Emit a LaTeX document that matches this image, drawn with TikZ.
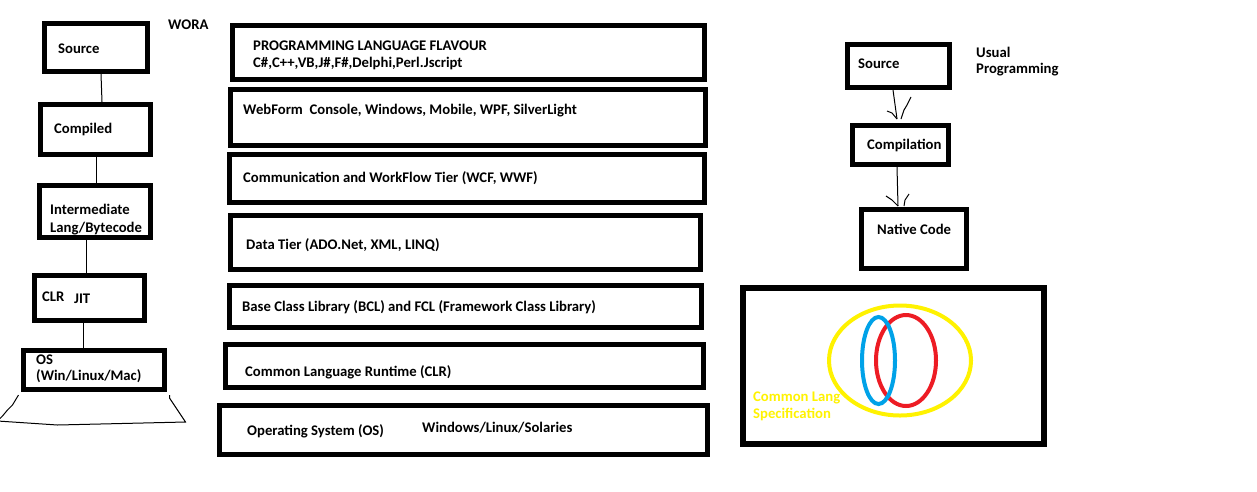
\documentclass[tikz,border=0pt]{standalone}
\usepackage{fontspec}
\setmainfont{Carlito}
\usetikzlibrary{calc}
\definecolor{clyellow}{HTML}{FFF200}
\definecolor{clblue}{HTML}{00A2E8}
\definecolor{clred}{HTML}{ED1C24}
\tikzset{
  box/.style={draw=black, line width=5pt, inner sep=0pt, fill=none},
  bigbox/.style={draw=black, line width=6pt, inner sep=0pt},
  txt/.style={anchor=base west, inner sep=0pt, font=\fontsize{14.7}{17.5}\selectfont\bfseries},
  ytxt/.style={txt, text=clyellow},
  thin/.style={line width=1pt, black},
  ring/.style={line width=4pt}
}
\begin{document}
\begin{tikzpicture}[x=1pt, y=-1pt]
\useasboundingbox (0,0) rectangle (1257,491);

% ---------- left column (WORA) ----------
\node[box, minimum width=103pt, minimum height=48pt] (src) at (96,47.5) {};
\node[box, minimum width=110pt, minimum height=50pt] (cmp) at (95.5,129.5) {};
\node[box, minimum width=111pt, minimum height=52pt] (il) at (95,211.5) {};
\node[box, minimum width=110pt, minimum height=45pt] (clr) at (89.5,298) {};
\node[box, minimum width=141pt, minimum height=39pt] (os) at (94,370) {};

\draw[thin] ([xshift=5pt]src.south) -- ([xshift=6.5pt]cmp.north);
\draw[thin] ([xshift=0.5pt]cmp.south) -- ([xshift=1pt]il.north);
\draw[thin] ([xshift=-9pt]il.south) -- ([xshift=-3.5pt]clr.north);
\draw[thin] ([xshift=-6.5pt]clr.south) -- ([xshift=-11pt]os.north);

\coordinate (lapL) at ([xshift=-2.5pt,yshift=-3pt]os.south west);
\coordinate (lapR) at ([xshift=2.5pt,yshift=-3pt]os.south east);
\draw[thin] (lapL) -- ++(-6,10) -- ++(-5,5) -- ++(-5,6) -- ++(-5,5)
  -- ++(60,4) -- ++(128,-3) -- ++(-8,-12) -- ++(-8,-12) -- (lapR);

\node[txt] (wora) at (168,29) {WORA};
\node[txt] (tsrc) at (58,53) {Source};
\node[txt] (tcmp) at (54,133) {Compiled};
\node[txt] (til1) at (50,214) {Intermediate};
\node[txt] (til2) at (50,232) {Lang/Bytecode};
\node[txt] (tclr) at (42,301) {CLR};
\node[txt] (tjit) at (74,303) {JIT};
\node[txt] (tos1) at (36,364) {OS};
\node[txt] (tos2) at (36,380) {(Win/Linux/Mac)};

% ---------- middle column (.NET stack) ----------
\node[box, minimum width=472pt, minimum height=54pt] (b1) at (468.5,52.5) {};
\node[box, minimum width=475pt, minimum height=56pt] (b2) at (468,117.5) {};
\node[box, minimum width=475pt, minimum height=48pt] (b3) at (467,178.5) {};
\node[box, minimum width=470pt, minimum height=54pt] (b4) at (465.5,242.5) {};
\node[box, minimum width=472pt, minimum height=42pt] (b5) at (465.5,306.5) {};
\node[box, minimum width=478pt, minimum height=43pt] (b6) at (464.5,366) {};
\node[box, minimum width=488pt, minimum height=49pt] (b7) at (463.5,430) {};

\node[txt] (t1a) at (253,50) {PROGRAMMING LANGUAGE FLAVOUR};
\node[txt] (t1b) at (253,67) {C\#,C++,VB,J\#,F\#,Delphi,Perl.Jscript};
\node[txt] (t2) at (243,114) {WebForm\ \ Console, Windows, Mobile, WPF, SilverLight};
\node[txt] (t3) at (243,182) {Communication and WorkFlow Tier (WCF, WWF)};
\node[txt] (t4) at (246,249) {Data Tier (ADO.Net, XML, LINQ)};
\node[txt] (t5) at (242,311) {Base Class Library (BCL) and FCL (Framework Class Library)};
\node[txt] (t6) at (245,376) {Common Language Runtime (CLR)};
\node[txt] (t7a) at (247,435) {Operating System (OS)};
\node[txt] (t7b) at (422,432) {Windows/Linux/Solaries};

% ---------- right column (usual programming) ----------
\node[box, minimum width=102pt, minimum height=43pt] (rsrc) at (898.5,66) {};
\node[box, minimum width=96pt, minimum height=39pt] (rcmp) at (900.5,145) {};
\node[box, minimum width=105pt, minimum height=59pt] (nat) at (914,239) {};

\coordinate (tipA) at ([xshift=-3.5pt,yshift=4pt]rcmp.north);
\draw[thin] ([xshift=-5.5pt]rsrc.south) -- (tipA);
\draw[thin] (tipA) -- ++(-5,-6) -- ++(-5,-2);
\draw[thin] ([xshift=4pt]tipA) -- ++(3,-9) -- ++(3,-5) -- ++(4,-8);
\coordinate (tipB) at ([xshift=-16pt,yshift=1pt]nat.north);
\draw[thin] ([xshift=-3.5pt]rcmp.south) -- (tipB);
\draw[thin] (tipB) -- ++(-6,-6) -- ++(-6,-4);
\draw[thin] ([xshift=6pt]tipB) -- ++(1,-6) -- ++(4,-6);

\node[txt] (trsrc) at (858,68) {Source};
\node[txt] (tus1) at (976,57) {Usual};
\node[txt] (tus2) at (976,73) {Programming};
\node[txt] (trcmp) at (867,149) {Compilation};
\node[txt] (tnat) at (877,234) {Native Code};

% ---------- common language specification ----------
\node[bigbox, minimum width=301pt, minimum height=156pt] (cls) at (893.5,366) {};
\draw[ring, clyellow] ($(cls.center)+(6.5,-5.5)$) ellipse [x radius=71pt, y radius=55pt];
\draw[ring, clred] ($(cls.center)+(12.5,-5.5)$) ellipse [x radius=30pt, y radius=45.5pt];
\draw[ring, clblue] ($(cls.center)+(-15,-5.5)$) ellipse [x radius=16.5pt, y radius=43.5pt];
\node[ytxt] (tcl1) at (753,401) {Common Lang};
\node[ytxt] (tcl2) at (753,418) {Specification};
\end{tikzpicture}
\end{document}
